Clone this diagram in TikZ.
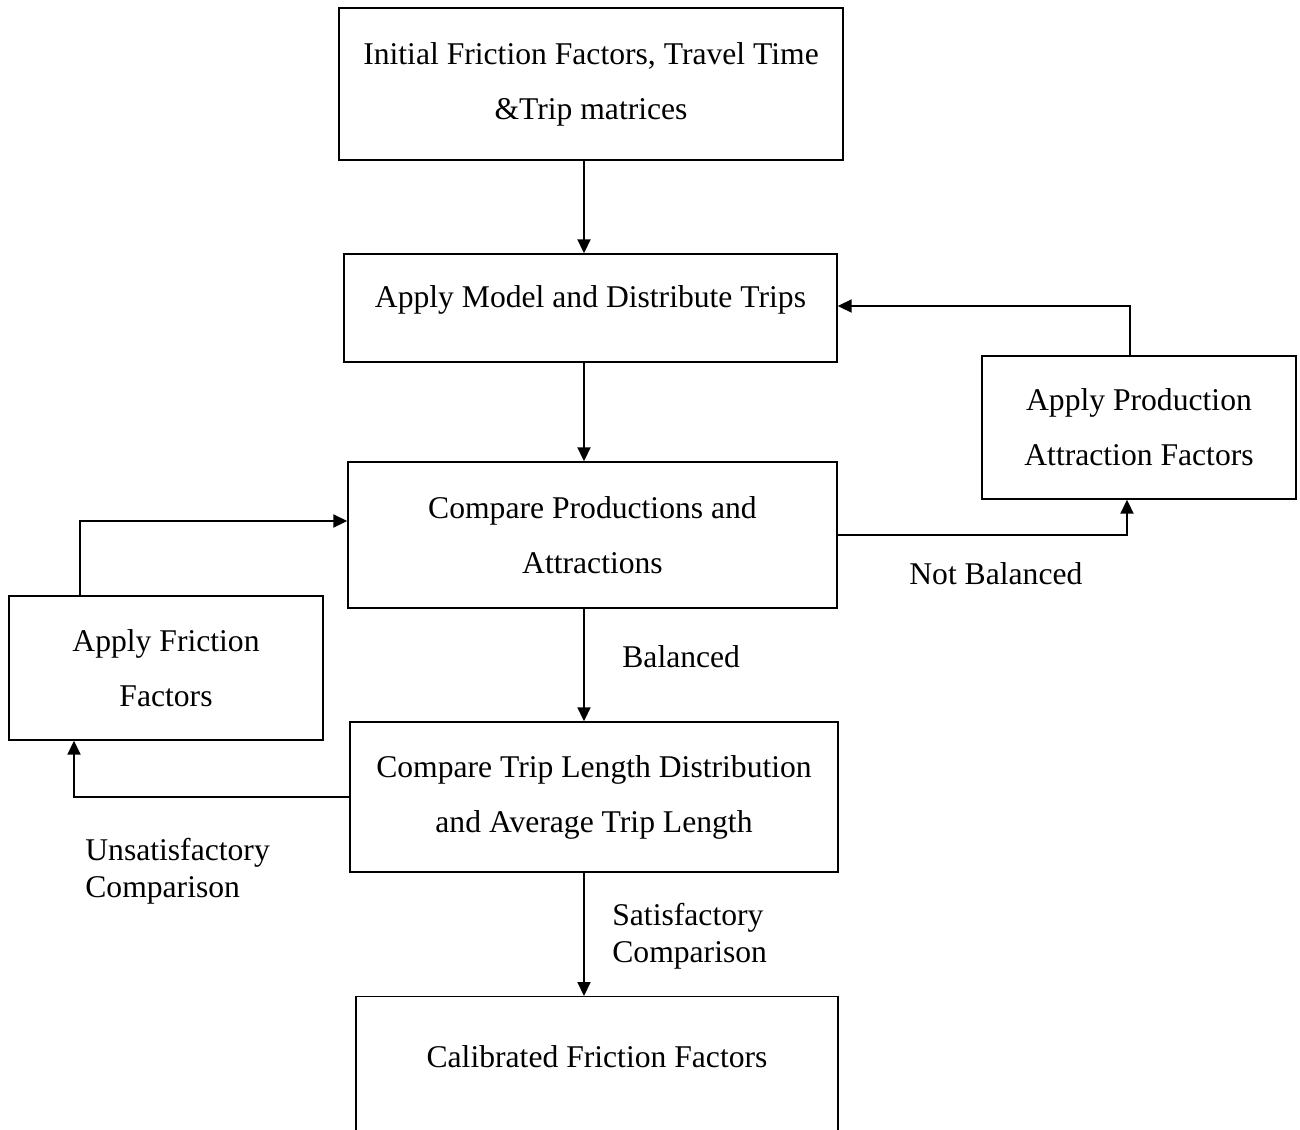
\documentclass[tikz,border=0pt]{standalone}
\usepackage{fontspec}
\setmainfont{Liberation Serif}
\usepackage{tikz}
\usetikzlibrary{shapes,arrows.meta,positioning}
\tikzstyle{box} = [rectangle, draw, line width=0.8pt, align=center, inner sep=0pt]
\tikzstyle{note} = [align=left, inner sep=0pt, font=\fontsize{18}{21}\selectfont]
\tikzstyle{line} = [draw, line width=1.1pt, -{Triangle[length=2.8mm, width=2.6mm]}]

\begin{document}
\begin{tikzpicture}[font=\fontsize{18}{31.3}\selectfont]
			\useasboundingbox (0,0) rectangle (26,-22.6);
			\coordinate (spine) at (11.68,0);

			\node [box, minimum width=10.08cm, minimum height=3.04cm] (init) at (11.82,-1.68) {Initial Friction Factors, Travel Time\\\&Trip matrices};
			\node [box, minimum width=9.86cm, minimum height=2.16cm] (model) at (11.81,-6.16) {Apply Model and Distribute Trips\rule[-4.5mm]{0pt}{0pt}};
			\node [box, minimum width=6.28cm, minimum height=2.86cm] (prodfac) at (22.78,-8.55) {Apply Production\\Attraction Factors};
			\node [box, minimum width=9.78cm, minimum height=2.92cm] (compprod) at (11.85,-10.70) {Compare Productions and\\Attractions};
			\node [box, minimum width=6.28cm, minimum height=2.88cm] (fricfac) at (3.32,-13.36) {Apply Friction\\Factors};
			\node [box, minimum width=9.76cm, minimum height=3.00cm] (comptrip) at (11.88,-15.94) {Compare Trip Length Distribution\\and Average Trip Length};
			\node [box, anchor=north, minimum width=9.64cm, minimum height=3.2cm] (calib) at (11.94,-19.92) {};
			\node (calibtext) at (11.94,-21.14) {Calibrated Friction Factors};

			\node [note, anchor=west] (bal) at (12.44,-13.14) {Balanced};
			\node [note, anchor=west] (notbal) at (18.18,-11.48) {Not Balanced};
			\node [note, anchor=west] (unsat) at (1.70,-17.42) {Unsatisfactory\\Comparison};
			\node [note, anchor=west] (sat) at (12.24,-18.72) {Satisfactory\\Comparison};

			\path [line] (init.south -| spine) -- (model.north -| spine);
			\path [line] (model.south -| spine) -- (compprod.north -| spine);
			\path [line] (compprod.south -| spine) -- (comptrip.north -| spine);
			\path [line] (comptrip.south -| spine) -- (calib.north -| spine);
			\path [line] (compprod.east) -| ([xshift=-2.4mm]prodfac.south);
			\path [line] ([xshift=-1.8mm]prodfac.north) |- ([yshift=0.04cm]model.east);
			\path [line] (comptrip.west) -| ([xshift=-18.4mm]fricfac.south);
			\path [line] ([xshift=-17.2mm]fricfac.north) |- ([yshift=2.8mm]compprod.west);
		\end{tikzpicture}
\end{document}
